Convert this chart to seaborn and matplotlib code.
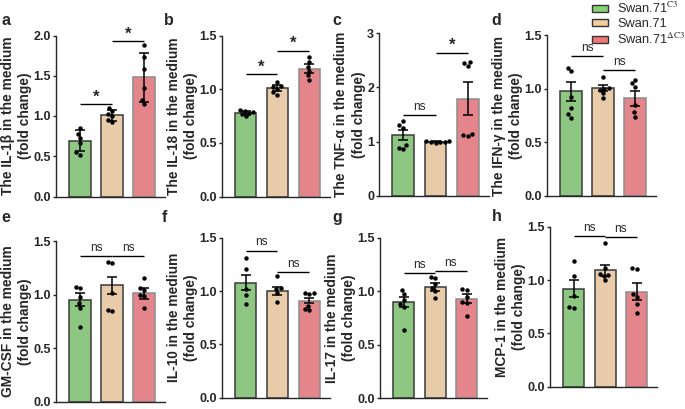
import numpy as np
import pandas as pd
import matplotlib.pyplot as plt
import seaborn as sns
from matplotlib.patches import Patch

# ----------------------------------------------------
# Data
# ----------------------------------------------------

groups = ["C3", "WT", "dC3"]
legend_labels = [r"Swan.71$^{\mathrm{C3}}$", "Swan.71", r"Swan.71$^{\Delta\mathrm{C3}}$"]
bar_colors = ["#86D375", "#F2CDA0", "#F2767C"]
edge_colors = ["#3a3a3a", "#3a3a3a", "#8c8c8c"]

panel_letters = ["a", "b", "c", "d", "e", "f", "g", "h"]
ylabels = [
    "The IL-1\u03b2 in the medium\n(fold change)",
    "The IL-18 in the medium\n(fold change)",
    "The TNF-\u03b1 in the medium\n(fold change)",
    "The IFN-\u03b3 in the medium\n(fold change)",
    "GM-CSF in the medium\n(fold change)",
    "IL-10 in the medium\n(fold change)",
    "IL-17 in the medium\n(fold change)",
    "MCP-1 in the medium\n(fold change)",
]

y_max = [2.0, 1.5, 3.0, 1.5, 1.5, 1.5, 1.5, 1.5]
y_step = [0.5, 0.5, 1.0, 0.5, 0.5, 0.5, 0.5, 0.5]

means = [
    [0.69, 1.01, 1.48],
    [0.78, 1.01, 1.19],
    [1.12, 1.00, 1.79],
    [0.975, 1.005, 0.91],
    [0.955, 1.09, 1.015],
    [1.08, 1.00, 0.91],
    [0.90, 1.04, 0.93],
    [0.92, 1.09, 0.89],
]

errors = [
    [0.13, 0.07, 0.30],
    [0.02, 0.03, 0.04],
    [0.09, 0.01, 0.30],
    [0.09, 0.03, 0.07],
    [0.06, 0.08, 0.05],
    [0.07, 0.04, 0.025],
    [0.045, 0.035, 0.04],
    [0.08, 0.055, 0.08],
]

points = [
    [[0.85, 0.78, 0.73, 0.66, 0.55, 0.52],
     [1.10, 1.06, 1.03, 1.00, 0.95, 0.93],
     [1.88, 1.73, 1.58, 1.35, 1.20, 1.15]],
    [[0.81, 0.80, 0.79, 0.78, 0.77, 0.75],
     [1.07, 1.03, 1.02, 1.00, 0.97, 0.95],
     [1.30, 1.25, 1.21, 1.17, 1.13, 1.09]],
    [[1.38, 1.30, 1.26, 0.93, 0.88, 0.86],
     [1.02, 1.01, 1.00, 1.00, 0.99, 0.98],
     [2.47, 2.44, 2.40, 1.15, 1.12, 1.10]],
    [[1.19, 1.16, 0.92, 0.82, 0.76, 0.73],
     [1.11, 1.01, 1.00, 0.99, 0.96, 0.91],
     [1.08, 1.05, 1.02, 0.85, 0.78, 0.74]],
    [[1.07, 1.06, 0.98, 0.92, 0.88, 0.70],
     [1.31, 1.30, 1.02, 0.86, 0.85],
     [1.16, 1.06, 1.05, 1.00, 0.99, 0.88]],
    [[1.31, 1.21, 1.02, 0.96, 0.88],
     [1.14, 1.03, 1.02, 0.98, 0.90],
     [0.98, 0.98, 0.97, 0.86, 0.83, 0.82]],
    [[1.01, 0.97, 0.92, 0.88, 0.85, 0.64],
     [1.13, 1.12, 1.07, 1.03, 1.00, 0.94],
     [1.02, 1.01, 0.95, 0.90, 0.89, 0.77]],
    [[1.18, 1.04, 0.85, 0.75, 0.74],
     [1.35, 1.11, 1.06, 1.05, 1.04, 1.00],
     [1.11, 1.10, 0.87, 0.84, 0.78, 0.69]],
]

# significance brackets: (from bar, to bar, height, label)
significance = [
    [(0, 1, 1.15, "*"), (1, 2, 1.93, "*")],
    [(0, 1, 1.14, "*"), (1, 2, 1.36, "*")],
    [(0, 1, 1.49, "ns"), (1, 2, 2.64, "*")],
    [(0, 1, 1.30, "ns"), (1, 2, 1.17, "ns")],
    [(0, 1, 1.36, "ns"), (1, 2, 1.36, "ns")],
    [(0, 1, 1.38, "ns"), (1, 2, 1.18, "ns")],
    [(0, 1, 1.17, "ns"), (1, 2, 1.19, "ns")],
    [(0, 1, 1.41, "ns"), (1, 2, 1.40, "ns")],
]

# ----------------------------------------------------
# Layout (pixel boxes: left, right, y of zero, y of top)
# ----------------------------------------------------

W, H = 685, 409
boxes = [
    (56, 165, 196.5, 35.5),
    (221.7, 330, 196.5, 35.5),
    (379, 489, 196, 33),
    (547, 656, 196, 35),
    (56, 165, 401.5, 241.5),
    (221.7, 330, 397.7, 237.7),
    (380, 487, 398.3, 237.7),
    (550, 657, 386.7, 226.7),
]
letter_pos = [(2, 25), (164, 25), (332, 25), (491, 25),
              (1, 222), (162, 222), (332, 222), (492, 221)]

sns.set_style("ticks")
plt.rcParams["font.family"] = ["Liberation Sans", "DejaVu Sans"]
plt.rcParams["mathtext.fontset"] = "stix"
plt.rcParams["axes.linewidth"] = 1.0

fig = plt.figure(figsize=(W / 100, H / 100), dpi=100)

for k in range(8):
    left, right, y0, ytop = boxes[k]
    ax = fig.add_axes([left / W, 1 - y0 / H, (right - left) / W, (y0 - ytop) / H])

    bar_df = pd.DataFrame({"group": groups, "value": means[k]})
    sns.barplot(
        data=bar_df, x="group", y="value", hue="group", order=groups,
        palette=bar_colors, errorbar=None, width=0.67, legend=False,
        linewidth=1.1, ax=ax
    )
    for patch, ec in zip(ax.patches, edge_colors):
        patch.set_edgecolor(ec)

    dot_df = pd.DataFrame({
        "group": [g for g, vals in zip(groups, points[k]) for _ in vals],
        "value": [v for vals in points[k] for v in vals],
    })
    sns.swarmplot(
        data=dot_df, x="group", y="value", order=groups, color="black",
        size=3.2, ax=ax, zorder=3
    )

    ax.errorbar(
        np.arange(3), means[k], yerr=errors[k], fmt="none",
        ecolor="black", elinewidth=1.1, capsize=3.8, capthick=1.1, zorder=4
    )

    for i, j, h, lab in significance[k]:
        ax.plot([i, j], [h, h], color="black", lw=1.0, solid_capstyle="butt")
        if lab == "*":
            ax.annotate(lab, ((i + j) / 2, h), xytext=(0, 5), textcoords="offset points",
                        ha="center", va="center", fontsize=12, fontweight="bold")
        else:
            ax.annotate(lab, ((i + j) / 2, h), xytext=(0, 1.5), textcoords="offset points",
                        ha="center", va="bottom", fontsize=8.5)

    ax.set_xlim(-0.75, 2.65)
    ax.set_ylim(0, y_max[k])
    ax.set_yticks(np.arange(0, y_max[k] + 0.01, y_step[k]))
    if y_step[k] < 1:
        ax.set_yticklabels([f"{t:.1f}" for t in ax.get_yticks()])
    else:
        ax.set_yticklabels([f"{t:.0f}" for t in ax.get_yticks()])
    ax.set_xticks([])
    ax.set_xlabel("")
    ax.set_ylabel(ylabels[k], fontsize=9.9, fontweight="bold", labelpad=1,
                  linespacing=1.3)
    ax.tick_params(axis="y", length=2.5, width=1.0, pad=1, labelsize=9)
    for t in ax.get_yticklabels():
        t.set_fontweight("bold")
    sns.despine(ax=ax)

    lx, ly = letter_pos[k]
    fig.text(lx / W, 1 - ly / H, panel_letters[k], fontsize=11.5,
             fontweight="bold", va="baseline", ha="left")

# ----------------------------------------------------
# Legend
# ----------------------------------------------------

handles = [Patch(facecolor=c, edgecolor="#333333", linewidth=1.0) for c in bar_colors]
fig.legend(
    handles, legend_labels, loc="upper left",
    bbox_to_anchor=(592 / W, 1 - 1 / H), frameon=False, fontsize=9.2,
    handlelength=1.25, handleheight=0.55, handletextpad=0.7,
    labelspacing=0.15, borderpad=0, borderaxespad=0
)

fig.savefig("out.png", dpi=100)
